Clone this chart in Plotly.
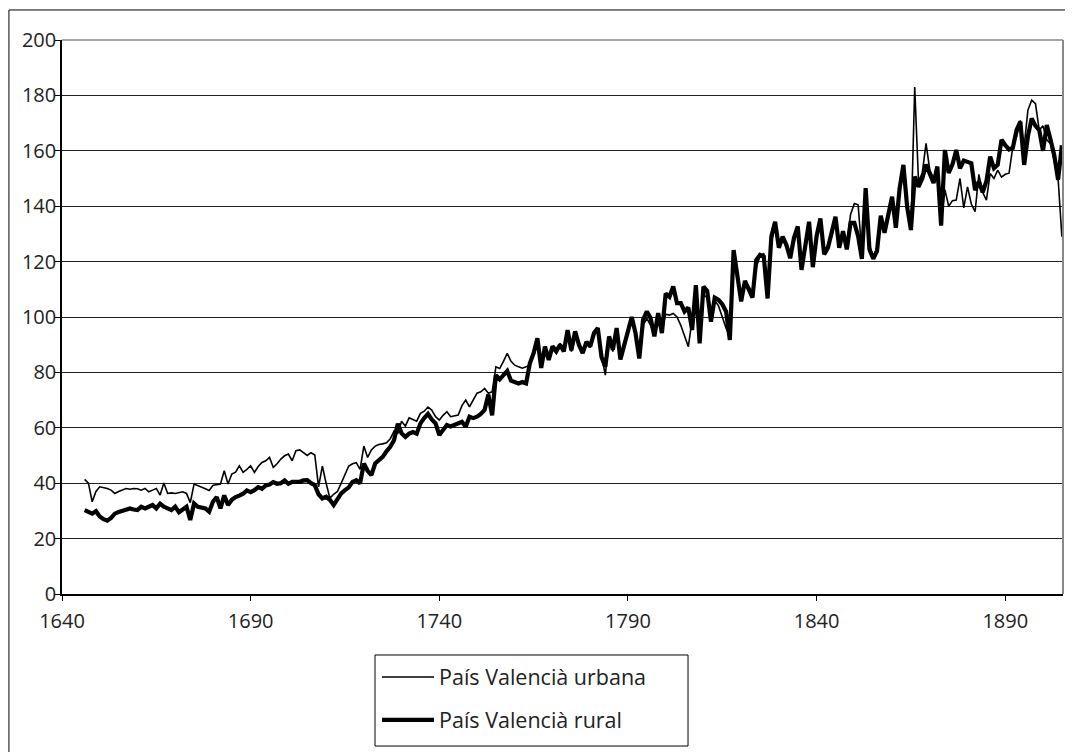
import plotly.graph_objects as go

years = list(range(1646, 1906))

rural = [
    30.3, 29.5, 29.0, 29.9, 28.0, 27.0, 26.5, 27.5, 29.0, 29.6,
    30.0, 30.3, 30.9, 30.5, 30.3, 31.5, 30.9, 31.5, 32.1, 30.9,
    32.6, 31.5, 30.9, 30.3, 31.5, 29.5, 30.5, 31.5, 26.7, 32.7,
    31.5, 31.0, 30.9, 29.7, 33.3, 35.0, 30.9, 35.6, 32.1, 34.0,
    35.0, 35.5, 36.2, 37.4, 36.8, 37.5, 38.6, 38.0, 39.2, 39.5,
    40.4, 39.8, 40.0, 41.0, 39.8, 40.5, 40.4, 40.5, 41.0, 41.1,
    40.0, 39.3, 36.0, 34.5, 35.1, 34.0, 32.1, 34.5, 36.3, 37.5,
    38.5, 40.5, 41.1, 39.9, 47.1, 44.5, 42.9, 47.1, 48.5, 49.5,
    51.5, 53.1, 55.5, 61.5, 58.0, 56.7, 57.9, 58.5, 57.9, 61.6,
    63.5, 65.0, 63.0, 61.6, 57.4, 59.0, 61.0, 60.5, 61.0, 61.5,
    62.2, 60.4, 64.0, 63.5, 64.0, 65.0, 66.4, 72.0, 64.5, 79.0,
    77.5, 79.0, 80.5, 77.0, 76.5, 76.0, 76.5, 76.0, 83.3, 87.0,
    92.3, 81.6, 89.3, 84.5, 89.4, 87.6, 90.0, 87.6, 95.3, 88.0,
    94.8, 90.0, 87.0, 91.0, 89.4, 94.2, 96.0, 85.5, 82.0, 93.0,
    88.2, 96.0, 84.7, 90.0, 94.2, 100.0, 94.2, 85.0, 99.0, 102.0,
    99.6, 93.0, 101.4, 94.2, 108.5, 107.3, 111.0, 105.0, 105.0, 102.0,
    103.4, 95.3, 111.5, 90.5, 111.0, 109.4, 98.3, 107.0, 106.2, 104.6,
    102.0, 91.7, 124.2, 115.6, 105.6, 113.0, 110.0, 107.0, 120.6, 122.4,
    121.8, 106.7, 129.0, 134.4, 125.0, 129.0, 126.0, 121.2, 128.6, 132.7,
    117.0, 126.2, 134.4, 118.0, 129.2, 135.6, 122.6, 125.0, 130.4, 136.2,
    125.0, 131.0, 124.4, 134.0, 134.0, 129.2, 121.0, 146.5, 124.4, 121.0,
    123.8, 136.6, 130.4, 136.4, 143.4, 132.2, 146.5, 154.9, 139.7, 131.4,
    150.7, 147.0, 150.0, 155.0, 152.0, 148.4, 154.3, 133.0, 160.3, 152.0,
    155.0, 160.3, 153.7, 156.5, 156.0, 155.5, 145.8, 148.9, 145.0, 149.0,
    157.9, 153.7, 155.0, 164.0, 162.0, 160.5, 161.0, 167.5, 170.5, 154.9,
    165.2, 171.7, 169.0, 167.5, 160.0, 169.3, 164.0, 158.3, 149.5, 162.0,
]

urban = [
    41.4, 40.0, 33.3, 37.0, 38.7, 38.5, 38.1, 37.5, 36.3, 37.0,
    37.5, 38.1, 37.8, 38.1, 38.0, 37.5, 38.1, 36.9, 37.5, 38.1,
    35.7, 40.1, 36.3, 36.5, 36.3, 36.5, 36.9, 36.3, 33.0, 39.7,
    39.2, 38.5, 38.0, 37.4, 39.2, 39.5, 39.7, 44.5, 39.7, 43.3,
    44.0, 46.3, 43.9, 45.0, 46.3, 43.9, 46.0, 47.5, 48.1, 49.3,
    45.7, 47.0, 48.7, 49.9, 50.5, 48.1, 51.7, 52.0, 51.1, 50.0,
    51.0, 50.2, 38.7, 46.2, 40.0, 34.6, 36.0, 37.0, 40.0, 43.0,
    46.2, 47.0, 47.4, 45.0, 53.4, 49.3, 52.0, 53.4, 54.0, 54.2,
    54.6, 56.0, 58.8, 58.0, 62.4, 60.6, 63.6, 63.0, 62.4, 65.2,
    66.0, 67.5, 66.4, 64.0, 62.8, 64.5, 65.8, 64.0, 64.3, 64.6,
    68.0, 70.0, 67.6, 70.0, 72.5, 73.0, 74.2, 72.5, 73.0, 82.0,
    81.4, 84.0, 86.9, 84.0, 82.6, 82.0, 81.5, 82.0, 82.7, 88.0,
    92.3, 84.5, 89.3, 85.6, 88.5, 87.0, 90.5, 88.0, 94.5, 87.5,
    94.0, 89.0, 87.5, 90.5, 89.0, 93.5, 95.5, 86.0, 79.0, 92.0,
    87.5, 95.0, 85.5, 91.0, 95.0, 99.0, 95.0, 86.0, 97.0, 99.5,
    97.0, 93.5, 99.0, 95.0, 101.0, 100.7, 101.3, 100.0, 97.0, 93.0,
    89.3, 99.0, 105.0, 91.0, 108.0, 107.0, 99.0, 106.0, 104.0, 100.0,
    96.0, 93.0, 124.0, 114.0, 108.0, 112.0, 111.0, 109.0, 118.0, 122.0,
    123.0, 108.0, 127.0, 133.0, 126.0, 128.0, 125.0, 122.0, 127.0, 131.0,
    118.0, 125.0, 133.0, 120.0, 128.0, 134.0, 124.0, 126.0, 129.0, 135.0,
    126.0, 130.0, 126.0, 137.0, 141.0, 140.5, 123.0, 145.0, 126.0, 122.0,
    125.0, 135.0, 131.0, 137.0, 142.0, 134.0, 145.0, 153.0, 140.0, 131.4,
    183.0, 149.0, 152.0, 162.7, 153.0, 150.0, 153.0, 134.0, 146.0, 140.0,
    142.0, 142.2, 150.0, 139.4, 147.0, 140.8, 138.0, 151.5, 145.0, 142.2,
    151.8, 150.0, 153.0, 150.5, 151.5, 151.9, 161.5, 165.2, 171.0, 161.5,
    174.7, 178.3, 177.0, 167.5, 169.0, 164.0, 162.6, 156.0, 150.0, 129.0,
]

x_ticks = [1640, 1690, 1740, 1790, 1840, 1890]
series_names = ["País Valencià urbana", "País Valencià rural"]

FONT = "Open Sans, Noto Sans, sans-serif"
TXT = "#222"

fig = go.Figure()
fig.add_trace(go.Scatter(x=years, y=urban, mode="lines", name=series_names[0],
                         legendgroup="u", line=dict(color="black", width=1.6)))
fig.add_trace(go.Scatter(x=years, y=rural, mode="lines", name=series_names[1],
                         legendgroup="r", line=dict(color="black", width=4.2)))

# page body adds an 8 px offset; figure is sized so the plot area lands at
# x 62..1063, y 40..594 in the window
fig.update_layout(
    width=1065, height=744,
    margin=dict(l=54, r=10, t=32, b=158, autoexpand=False),
    paper_bgcolor="white", plot_bgcolor="white",
    font=dict(family=FONT, color=TXT, size=20),
    showlegend=True,
    legend=dict(x=0.3147, xanchor="left", y=-0.1128, yanchor="top",
                borderwidth=0, bgcolor="rgba(0,0,0,0)",
                font=dict(size=21.5, family=FONT, color=TXT),
                tracegroupgap=12, itemwidth=52, traceorder="grouped"),
    xaxis=dict(range=[1640, 1905.3], tickvals=x_ticks, ticks="outside",
               ticklen=5, tickcolor="black", showline=True, linecolor="black",
               linewidth=1.5, showgrid=False, zeroline=False, automargin=False,
               ticklabelstandoff=3,
               tickfont=dict(size=20, family=FONT, color=TXT)),
    yaxis=dict(range=[0, 200], dtick=20, ticks="outside", ticklen=5,
               tickcolor="black", showline=True, linecolor="black", linewidth=1.5,
               showgrid=True, gridcolor="#222", gridwidth=1, zeroline=False,
               automargin=False, ticklabelstandoff=-5,
               tickfont=dict(size=20, family=FONT, color=TXT)),
    shapes=[
        dict(type="line", xref="paper", yref="paper", x0=1, x1=1, y0=0, y1=1,
             line=dict(color="#888", width=2)),
        dict(type="line", xref="paper", yref="paper", x0=0, x1=1, y0=1, y1=1,
             line=dict(color="#888", width=1.5)),
        dict(type="rect", xref="paper", yref="paper", x0=-0.053, x1=1.02,
             y0=-0.31, y1=1.0542, line=dict(color="black", width=1)),
        dict(type="rect", xref="paper", yref="paper", x0=0.3127, x1=0.6254,
             y0=-0.2744, y1=-0.1101, line=dict(color="black", width=1)),
    ],
)

fig.write_html("out.html")
